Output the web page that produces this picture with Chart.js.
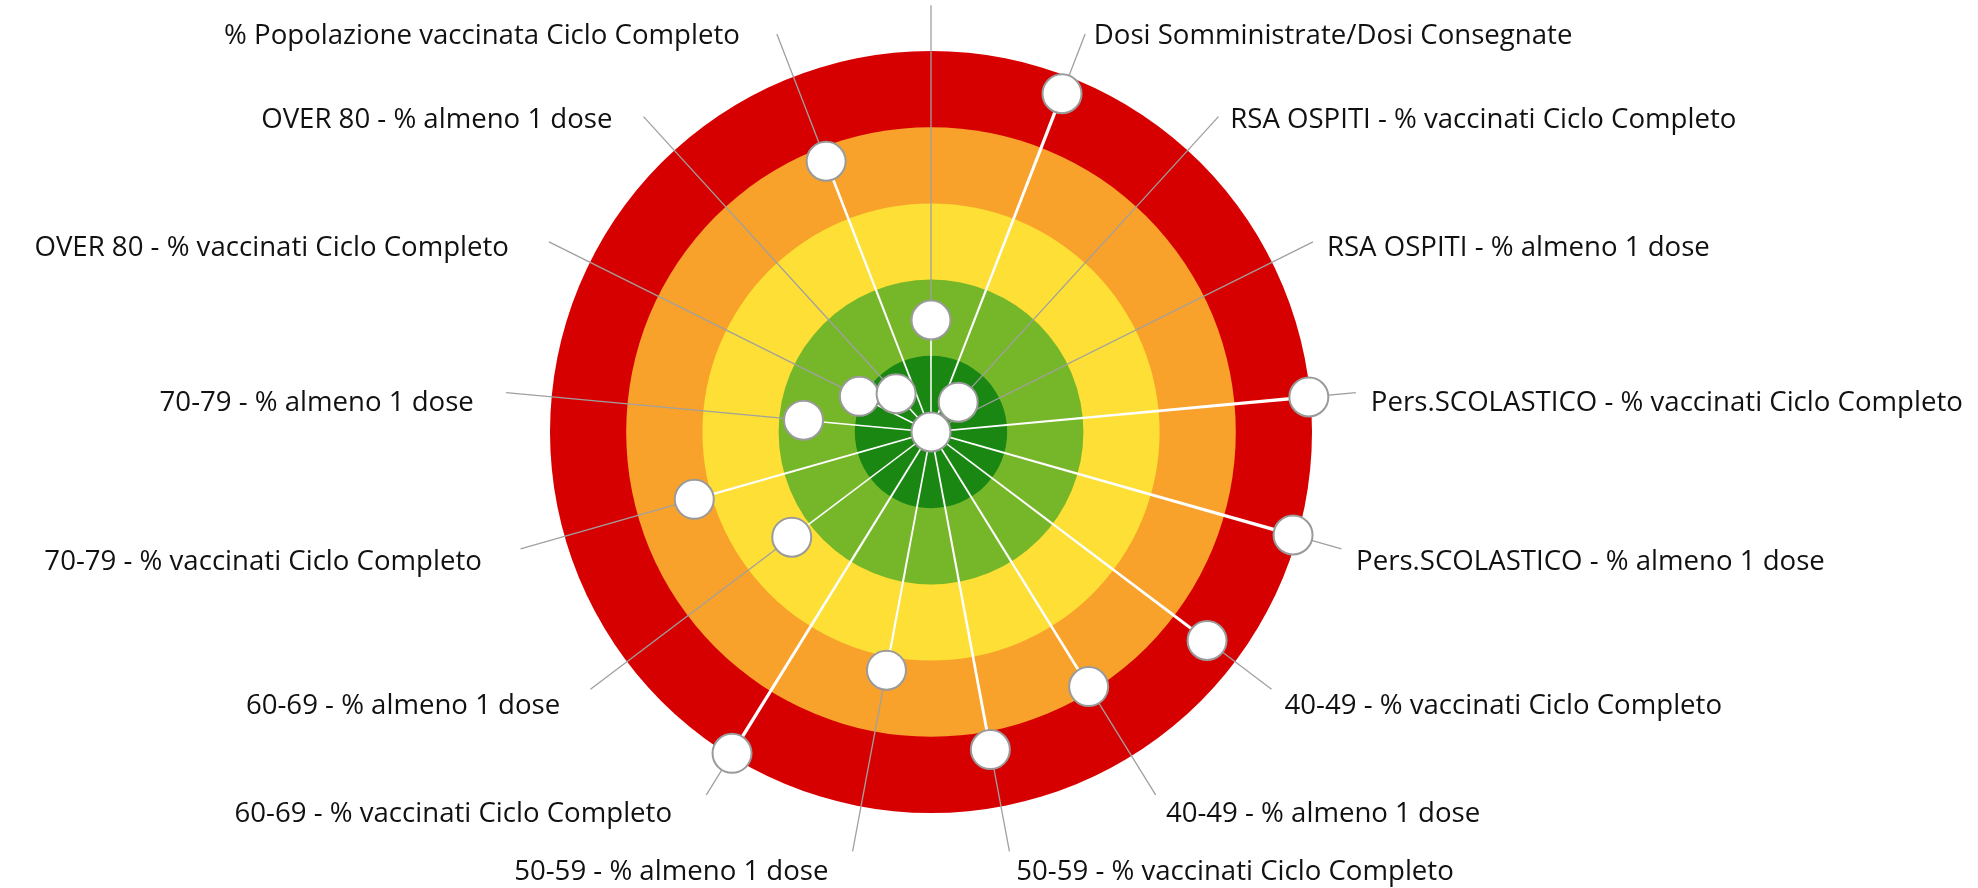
<!DOCTYPE html>
<html>
<head>
<meta charset="utf-8">
<script src="https://cdn.jsdelivr.net/npm/chart.js@4.4.1/dist/chart.umd.min.js"></script>
<style>
  html, body { margin: 0; padding: 0; background: #ffffff; overflow: hidden; }
  #wrap { width: 1978px; height: 888px; position: relative; }
</style>
</head>
<body>
<div id="wrap"><canvas id="c" width="1978" height="888"></canvas></div>
<script>
// Indicator names, clockwise from the top spoke
const categories = [
  '',
  'Dosi Somministrate/Dosi Consegnate',
  'RSA OSPITI - % vaccinati Ciclo Completo',
  'RSA OSPITI - % almeno 1 dose',
  'Pers.SCOLASTICO - % vaccinati Ciclo Completo',
  'Pers.SCOLASTICO - % almeno 1 dose',
  '40-49 - % vaccinati Ciclo Completo',
  '40-49 - % almeno 1 dose',
  '50-59 - % vaccinati Ciclo Completo',
  '50-59 - % almeno 1 dose',
  '60-69 - % vaccinati Ciclo Completo',
  '60-69 - % almeno 1 dose',
  '70-79 - % vaccinati Ciclo Completo',
  '70-79 - % almeno 1 dose',
  'OVER 80 - % vaccinati Ciclo Completo',
  'OVER 80 - % almeno 1 dose',
  '% Popolazione vaccinata Ciclo Completo'
];

// Position of each indicator on the 0-5 band scale
const scores = [1.47, 4.76, 0.53, 0, 4.98, 4.94, 4.54, 3.93, 4.24, 3.18, 4.96, 2.29, 3.23, 1.68, 1.05, 0.68, 3.81];

// Outer edge of each colour band and its fill
const bandEdges = [1, 2, 3, 4, 5];
const bandColors = ['#1a8713', '#76b72a', '#fddf35', '#f8a22b', '#d70000'];

const LABEL_FONT = '27.6px "Open Sans"';

const bandsPlugin = {
  id: 'bands',
  beforeDatasetsDraw(chart) {
    const s = chart.scales.r;
    const ctx = chart.ctx;
    const meta = chart.getDatasetMeta(0);
    ctx.save();
    // concentric bands, outermost first
    for (let k = bandEdges.length - 1; k >= 0; k--) {
      ctx.beginPath();
      ctx.arc(s.xCenter, s.yCenter, s.getDistanceFromCenterForValue(bandEdges[k]), 0, Math.PI * 2);
      ctx.fillStyle = bandColors[k];
      ctx.fill();
    }
    // white tapered spokes from the hub to each marker
    meta.data.forEach((pt) => {
      const dx = pt.x - s.xCenter, dy = pt.y - s.yCenter;
      const L = Math.hypot(dx, dy);
      if (L < 1) return;
      const nx = -dy / L, ny = dx / L;
      const w0 = 1.5, w1 = Math.max(1.6, L / 105);
      ctx.beginPath();
      ctx.moveTo(s.xCenter + nx * w0 / 2, s.yCenter + ny * w0 / 2);
      ctx.lineTo(pt.x + nx * w1 / 2, pt.y + ny * w1 / 2);
      ctx.lineTo(pt.x - nx * w1 / 2, pt.y - ny * w1 / 2);
      ctx.lineTo(s.xCenter - nx * w0 / 2, s.yCenter - ny * w0 / 2);
      ctx.closePath();
      ctx.fillStyle = '#ffffff';
      ctx.fill();
    });
    // grey leader lines from each marker out to its label
    const labelDist = s.drawingArea * 1.12;
    ctx.strokeStyle = '#a0a0a0';
    ctx.lineWidth = 1.3;
    meta.data.forEach((pt, i) => {
      const end = s.getPointPosition(i, labelDist);
      ctx.beginPath();
      ctx.moveTo(pt.x, pt.y);
      ctx.lineTo(end.x, end.y);
      ctx.stroke();
    });
    ctx.restore();
  },
  afterDatasetsDraw(chart) {
    const s = chart.scales.r;
    const ctx = chart.ctx;
    const labelDist = s.drawingArea * 1.12;
    ctx.save();
    ctx.font = LABEL_FONT;
    ctx.fillStyle = '#111111';
    ctx.textBaseline = 'middle';
    categories.forEach((txt, i) => {
      if (!txt) return;
      const end = s.getPointPosition(i, labelDist);
      const theta = s.getIndexAngle(i);
      const sn = Math.sin(theta), cs = Math.cos(theta);
      const y = end.y + 11 - 10 * cs;
      const w = ctx.measureText(txt).width;
      if (sn > 0.01) {
        ctx.textAlign = 'left';
        ctx.fillText(txt, end.x + 5 + 10 * sn, y);
      } else if (sn < -0.01) {
        ctx.textAlign = 'right';
        ctx.fillText(txt, end.x - (5 + 10 * Math.abs(sn)) - 0.055 * w, y);
      } else {
        ctx.textAlign = 'center';
        ctx.fillText(txt, end.x, y);
      }
    });
    ctx.restore();
  }
};

new Chart(document.getElementById('c'), {
  type: 'radar',
  data: {
    labels: categories,
    datasets: [{
      data: scores,
      showLine: false,
      fill: false,
      borderWidth: 0,
      pointRadius: 19.5,
      pointHoverRadius: 19.5,
      pointBackgroundColor: '#ffffff',
      pointBorderColor: '#9a9a9a',
      pointBorderWidth: 2
    }]
  },
  options: {
    responsive: false,
    animation: false,
    devicePixelRatio: 1,
    layout: { padding: { left: 550, top: 51, right: 666, bottom: 75 } },
    plugins: { legend: { display: false }, tooltip: { enabled: false } },
    scales: {
      r: {
        min: 0,
        max: 5,
        ticks: { display: false },
        grid: { display: false },
        angleLines: { display: false },
        pointLabels: { display: false }
      }
    }
  },
  plugins: [bandsPlugin]
});
</script>
</body>
</html>
